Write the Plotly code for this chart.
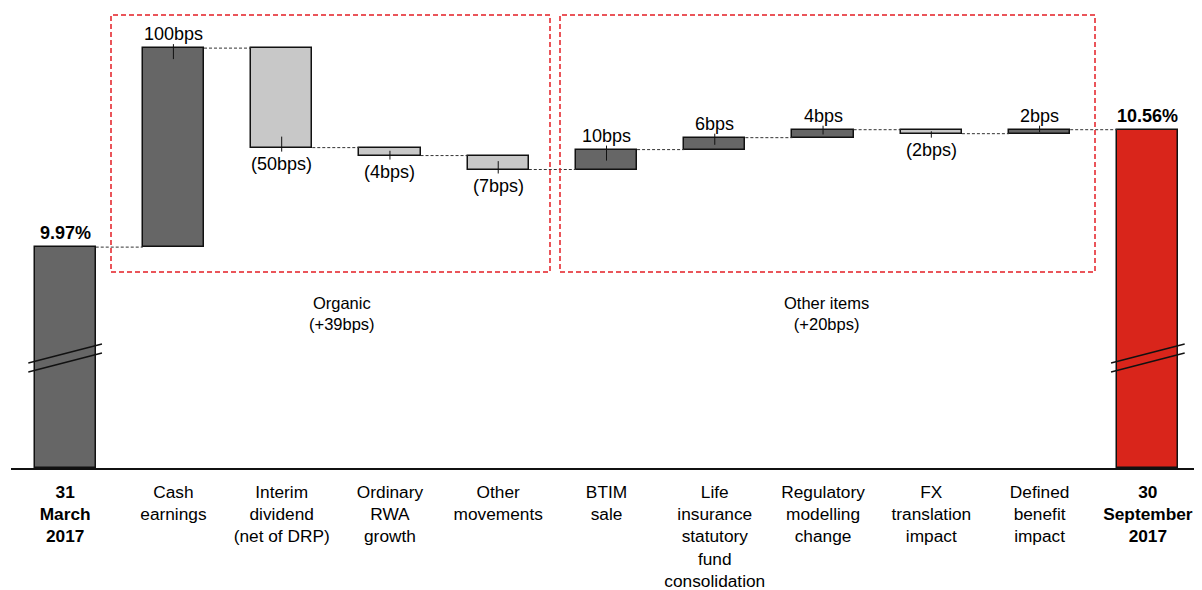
import plotly.graph_objects as go

# ---------------- data ----------------
categories = [
    "<b>31<br>March<br>2017</b>",
    "Cash<br>earnings",
    "Interim<br>dividend<br>(net of DRP)",
    "Ordinary<br>RWA<br>growth",
    "Other<br>movements",
    "BTIM<br>sale",
    "Life<br>insurance<br>statutory<br>fund<br>consolidation",
    "Regulatory<br>modelling<br>change",
    "FX<br>translation<br>impact",
    "Defined<br>benefit<br>impact",
    "<b>30<br>September<br>2017</b>",
]
start_value = 9.97          # %
end_value = 10.56           # %
changes_bps = [100, -50, -4, -7, 10, 6, 4, -2, 2]
axis_floor = 8.86           # broken axis floor (%)
group_names = ["Organic", "Other items"]
group_totals_bps = [39, 20]

# ---------------- styling ----------------
FONT = "Arial, Liberation Sans, sans-serif"
DARK = "#666666"
LIGHT = "#c8c8c8"
RED = "#d9251b"
BOX_RED = "#e31e24"
BAR_W = 0.565
PX_PER_PCT = 199.0
PAGE_OFF = 8                      # page body margin
PLOT_TOP = PAGE_OFF               # plot area top in window pixels
PLOT_BOTTOM = 468                 # axis line in window pixels
PLOT_H = PLOT_BOTTOM - PLOT_TOP

n = len(categories)
x_idx = list(range(n))

# ---------------- compute waterfall ----------------
bases, heights, colors, levels = [], [], [], []
bases.append(axis_floor)
heights.append(start_value - axis_floor)
colors.append(DARK)
level = start_value
levels.append(level)
for c in changes_bps:
    new = round(level + c / 100.0, 4)
    bases.append(min(level, new))
    heights.append(abs(c) / 100.0)
    colors.append(DARK if c > 0 else LIGHT)
    level = new
    levels.append(level)
bases.append(axis_floor)
heights.append(end_value - axis_floor)
colors.append(RED)
levels.append(end_value)

fig = go.Figure()
fig.add_trace(go.Bar(
    x=x_idx, y=heights, base=bases, width=BAR_W,
    marker=dict(color=colors, line=dict(color="#111111", width=1.5)),
    hoverinfo="skip", showlegend=False,
))

# connectors
cx, cy = [], []
for i in range(n - 1):
    lv = levels[i]
    cx += [i + BAR_W / 2, i + 1 - BAR_W / 2, None]
    cy += [lv, lv, None]
fig.add_trace(go.Scatter(
    x=cx, y=cy, mode="lines",
    line=dict(color="#333333", width=1, dash="3px,2px"),
    hoverinfo="skip", showlegend=False,
))

annotations = []
shapes = []
px = 1.0 / PX_PER_PCT

# total labels
for xi, val in ((0, start_value), (n - 1, end_value)):
    annotations.append(dict(x=xi, y=val, xref="x", yref="y",
                            text=f"<b>{val:.2f}%</b>", showarrow=False,
                            yanchor="bottom", yshift=2,
                            font=dict(family=FONT, size=18, color="#000")))

# change labels + leader ticks
for k, c in enumerate(changes_bps):
    i = k + 1
    bar_px = abs(c) / 100.0 * PX_PER_PCT
    inside = min(11, bar_px * 0.6) * px
    if c > 0:
        edge = bases[i] + heights[i]
        annotations.append(dict(x=i, y=edge, xref="x", yref="y",
                                text=f"{c}bps", showarrow=False,
                                yanchor="bottom", yshift=2,
                                font=dict(family=FONT, size=18, color="#000")))
        shapes.append(dict(type="line", xref="x", yref="y", x0=i, x1=i,
                           y0=edge + 4 * px, y1=edge - inside,
                           line=dict(color="#111", width=1)))
    else:
        edge = bases[i]
        annotations.append(dict(x=i, y=edge, xref="x", yref="y",
                                text=f"({abs(c)}bps)", showarrow=False,
                                yanchor="top", yshift=-4,
                                font=dict(family=FONT, size=18, color="#000")))
        shapes.append(dict(type="line", xref="x", yref="y", x0=i, x1=i,
                           y0=edge - 4 * px, y1=edge + inside,
                           line=dict(color="#111", width=1)))

# helpers converting window pixels to axis units (for decorations)
X0_WIN, X1_WIN = 11, 1202
CAT_W = (X1_WIN - X0_WIN) / n

def xcat(pxv):
    return (pxv - X0_WIN) / CAT_W - 0.5

def ypct(pyv):
    return axis_floor + (PLOT_BOTTOM - pyv) / PX_PER_PCT

boxes = [(111, 550), (560, 1095)]
label_x = [342, 826]
for (bx0, bx1), name, tot, lx in zip(boxes, group_names, group_totals_bps, label_x):
    shapes.append(dict(type="rect", xref="x", yref="y",
                       x0=xcat(bx0), x1=xcat(bx1), y0=ypct(272), y1=ypct(15),
                       line=dict(color=BOX_RED, width=1.5, dash="5px,3px")))
    annotations.append(dict(x=xcat(lx), y=ypct(313), xref="x", yref="y",
                            text=f"{name}<br>(+{tot}bps)", showarrow=False,
                            font=dict(family=FONT, size=16.5, color="#000")))

# axis break marks on first and last bars
for i in (0, n - 1):
    for off in (0, 9):
        shapes.append(dict(type="line", xref="x", yref="y",
                           x0=i - 0.34, x1=i + 0.34,
                           y0=ypct(363 + off), y1=ypct(344 + off),
                           line=dict(color="#111", width=1.3)))

fig.update_layout(
    width=1202 - PAGE_OFF, height=590 - PAGE_OFF,
    margin=dict(l=X0_WIN - PAGE_OFF, r=0, t=PLOT_TOP - PAGE_OFF,
                b=590 - PLOT_BOTTOM, autoexpand=False),
    paper_bgcolor="white", plot_bgcolor="white",
    bargap=0,
    annotations=annotations, shapes=shapes,
    font=dict(family=FONT, size=18, color="#000"),
)
fig.update_xaxes(
    range=[-0.5, n - 0.5], tickmode="array", tickvals=x_idx, ticktext=categories,
    showline=True, linecolor="#111", linewidth=1.5, showgrid=False, zeroline=False,
    ticks="", tickfont=dict(family=FONT, size=17.3, color="#000"),
    ticklabelstandoff=7, automargin=False,
)
fig.update_yaxes(
    range=[axis_floor, axis_floor + PLOT_H / PX_PER_PCT],
    visible=False, showgrid=False, zeroline=False, automargin=False,
)

fig.write_html("out.html")
